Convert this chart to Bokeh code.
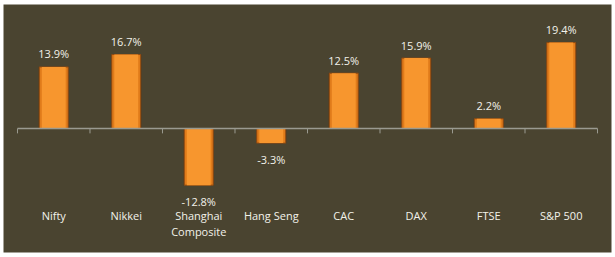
from bokeh.plotting import figure
from bokeh.models import ColumnDataSource, Range1d
from bokeh.core.properties import value
from bokeh.embed import file_html
from bokeh.resources import INLINE

categories = ["Nifty", "Nikkei", "Shanghai\nComposite", "Hang Seng", "CAC", "DAX", "FTSE", "S&P 500"]
returns = [13.9, 16.7, -12.8, -3.3, 12.5, 15.9, 2.2, 19.4]

n = len(categories)
xs = list(range(n))
labels = [f"{v:.1f}%" for v in returns]
line1 = [c.split("\n")[0] for c in categories]
line2 = [c.split("\n")[1] if "\n" in c else "" for c in categories]

BG = "#4A4430"
FONT = "Open Sans"

p = figure(width=615, height=257, output_backend="svg", toolbar_location=None,
           x_range=Range1d(-0.693, 7.693), y_range=Range1d(-28, 28),
           min_border_left=3, min_border_right=4, min_border_top=4, min_border_bottom=5)
p.background_fill_color = BG
p.border_fill_color = "white"
p.outline_line_color = None
p.xaxis.visible = False
p.yaxis.visible = False
p.xgrid.visible = False
p.ygrid.visible = False

src = ColumnDataSource(dict(
    x=xs, top=returns, bottom=[0] * n, label=labels,
    loff=[-13 if v >= 0 else 16 for v in returns],
    l1=line1, l2=line2, zero=[0] * n,
))

# shadow
p.vbar(x="x", top="top", bottom="bottom", width=0.42, source=src,
       fill_color="#2E2A1C", fill_alpha=0.5, line_color=None)
# bars
p.vbar(x="x", top="top", bottom="bottom", width=0.4, source=src,
       fill_color="#E07B1A", line_color="#8F4A12", line_width=1)
p.vbar(x="x", top="top", bottom="bottom", width=0.33, source=src,
       fill_color="#F7962E", line_color=None)

# zero axis line and ticks at category boundaries
bounds = [i - 0.5 for i in range(n + 1)]
p.segment(x0=[-0.5], x1=[n - 0.5], y0=[0], y1=[0], line_color="#9A9A90", line_width=1.5)
p.segment(x0=bounds, x1=bounds, y0=[0] * len(bounds), y1=[-1.1] * len(bounds),
          line_color="#9A9A90", line_width=1)

# data labels
p.text(x="x", y="top", text="label", source=src, y_offset="loff",
       text_align="center", text_baseline="middle", text_color="#F2F2EA",
       text_font=value(FONT), text_font_size="11px")

# category labels
p.text(x="x", y="zero", text="l1", source=src, y_offset=87,
       text_align="center", text_baseline="middle", text_color="#F2F2EA",
       text_font=value(FONT), text_font_size="11px")
p.text(x="x", y="zero", text="l2", source=src, y_offset=103,
       text_align="center", text_baseline="middle", text_color="#F2F2EA",
       text_font=value(FONT), text_font_size="11px")

open("out.html", "w").write(file_html(p, INLINE))
